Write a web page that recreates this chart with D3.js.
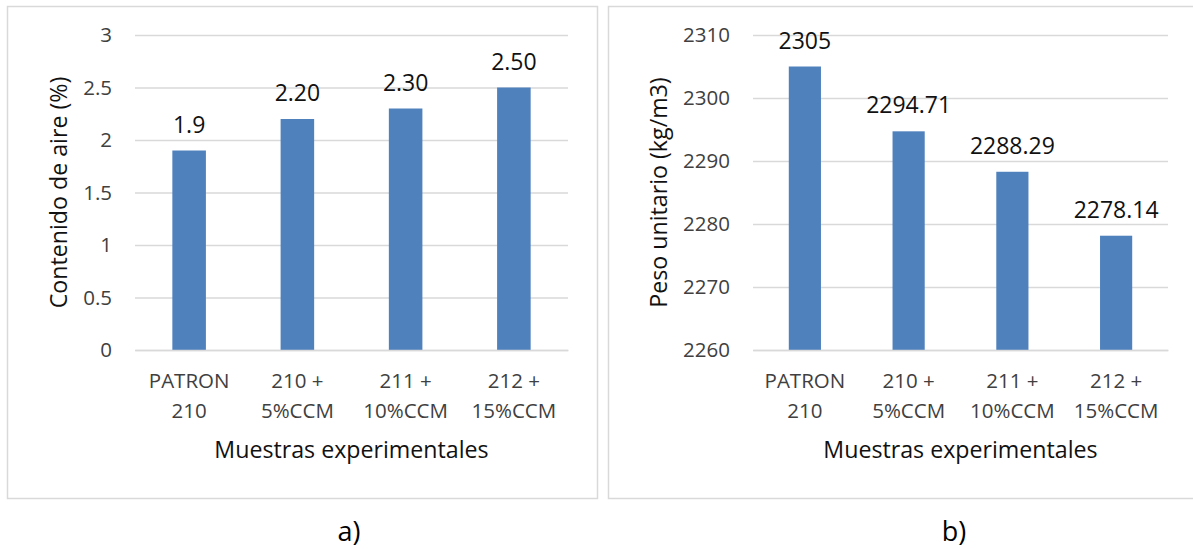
<!DOCTYPE html>
<html>
<head>
<meta charset="utf-8">
<script src="https://cdn.jsdelivr.net/npm/d3@7"></script>
<style>
  html, body { margin: 0; padding: 0; background: #fff; }
  svg { display: block; }
  text { font-family: "Open Sans", Lato, sans-serif; }
</style>
</head>
<body>
<svg id="fig" width="1193" height="549"></svg>
<script>
// Sample categories shared by both panels (two-line labels)
const categories = [
  ["PATRON", "210"],
  ["210 +", "5%CCM"],
  ["211 +", "10%CCM"],
  ["212 +", "15%CCM"]
];

// Panel a) air content (%)
const airValues = [1.9, 2.20, 2.30, 2.50];
const airDecimals = [1, 2, 2, 2];
const airTicks = [0, 0.5, 1, 1.5, 2, 2.5, 3];

// Panel b) unit weight (kg/m3)
const weightValues = [2305, 2294.71, 2288.29, 2278.14];
const weightDecimals = [0, 2, 2, 2];
const weightTicks = [2260, 2270, 2280, 2290, 2300, 2310];

const xTitle = "Muestras experimentales";

const svg = d3.select("#fig");

function drawPanel(opt) {
  const g = svg.append("g");

  // frame
  g.append("rect")
    .attr("x", opt.box[0] + 0.5).attr("y", opt.box[1] + 0.5)
    .attr("width", opt.box[2]).attr("height", opt.box[3])
    .attr("fill", "none").attr("stroke", "#d9d9d9").attr("stroke-width", 1.5);

  const x = d3.scaleBand()
    .domain(d3.range(opt.values.length))
    .range([opt.left, opt.right])
    .paddingInner(0.69).paddingOuter(0.345);

  const y = d3.scaleLinear()
    .domain(opt.domain)
    .range([opt.bottom, opt.top]);

  // horizontal gridlines + tick labels
  const yAxis = d3.axisLeft(y)
    .tickValues(opt.ticks)
    .tickSize(-(opt.right - opt.left))
    .tickPadding(23)
    .tickFormat(d3.format("~g"));
  const ya = g.append("g")
    .attr("transform", `translate(${opt.left},0)`)
    .call(yAxis);
  ya.select(".domain").remove();
  ya.selectAll(".tick line").attr("stroke", "#d9d9d9").attr("stroke-width", 1.3);
  ya.selectAll(".tick text")
    .attr("fill", "#404040").attr("font-size", 20.5).attr("dy", "0.34em");

  // bars
  g.selectAll("rect.bar")
    .data(opt.values)
    .join("rect")
    .attr("class", "bar")
    .attr("x", (d, i) => x(i))
    .attr("width", x.bandwidth())
    .attr("y", d => y(d))
    .attr("height", d => y(opt.domain[0]) - y(d))
    .attr("fill", "#4f81bd");

  // value labels
  g.selectAll("text.val")
    .data(opt.values)
    .join("text")
    .attr("class", "val")
    .attr("x", (d, i) => x(i) + x.bandwidth() / 2)
    .attr("y", d => y(d) - 18)
    .attr("text-anchor", "middle")
    .attr("font-size", 23)
    .attr("fill", "#111")
    .text((d, i) => d.toFixed(opt.decimals[i]));

  // baseline (category axis)
  const xAxis = d3.axisBottom(x).tickSize(0).tickFormat("");
  const xa = g.append("g")
    .attr("transform", `translate(0,${opt.bottom})`)
    .call(xAxis);
  xa.select(".domain").attr("stroke", "#d9d9d9").attr("stroke-width", 1.5);

  // category labels (two lines)
  const cat = g.selectAll("text.cat")
    .data(categories)
    .join("text")
    .attr("class", "cat")
    .attr("text-anchor", "middle")
    .attr("font-size", 20.5)
    .attr("fill", "#404040");
  cat.each(function (lines, i) {
    const t = d3.select(this);
    lines.forEach((s, k) => {
      t.append("tspan")
        .attr("x", x(i) + x.bandwidth() / 2)
        .attr("y", opt.bottom + 38 + k * 30)
        .text(s);
    });
  });

  // axis titles
  g.append("text")
    .attr("x", (opt.left + opt.right) / 2)
    .attr("y", opt.bottom + 108)
    .attr("text-anchor", "middle")
    .attr("font-size", 23.2)
    .attr("fill", "#111")
    .text(xTitle);

  g.append("text")
    .attr("transform", `translate(${opt.yTitleX},${(opt.top + opt.bottom) / 2}) rotate(-90)`)
    .attr("text-anchor", "middle")
    .attr("font-size", 23.2)
    .attr("fill", "#111")
    .text(opt.yTitle);

  // panel letter
  g.append("text")
    .attr("x", opt.letterX)
    .attr("y", 541)
    .attr("text-anchor", "middle")
    .attr("font-size", 27)
    .attr("font-family", "Liberation Sans, Arial, sans-serif")
    .attr("fill", "#000")
    .text(opt.letter);
}

drawPanel({
  box: [7, 6, 590, 492],
  left: 135, right: 568, top: 35, bottom: 350,
  domain: [0, 3], ticks: airTicks,
  values: airValues, decimals: airDecimals,
  yTitle: "Contenido de aire (%)", yTitleX: 67,
  letter: "a)", letterX: 349
});

drawPanel({
  box: [608, 6, 600, 492],
  left: 753, right: 1168, top: 35, bottom: 350,
  domain: [2260, 2310], ticks: weightTicks,
  values: weightValues, decimals: weightDecimals,
  yTitle: "Peso unitario (kg/m3)", yTitleX: 667,
  letter: "b)", letterX: 954
});
</script>
</body>
</html>
